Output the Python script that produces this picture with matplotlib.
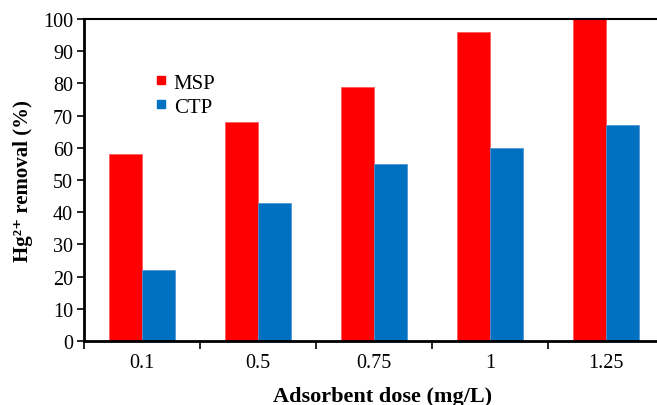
import matplotlib.pyplot as plt
from matplotlib.lines import Line2D
import numpy as np

doses = ["0.1", "0.5", "0.75", "1", "1.25"]
msp = [58, 68, 79, 96, 100]
ctp = [22, 43, 55, 60, 67]

plt.rcParams["font.family"] = ["Liberation Serif", "DejaVu Serif"]

fig = plt.figure(figsize=(6.57, 4.06), dpi=100)
ax = fig.add_axes([84 / 657, 64 / 406, 580 / 657, 322 / 406])

x = np.arange(len(doses))
w = 0.285
ax.bar(x - w / 2, msp, w, color="#FF0000", edgecolor="#FF5050", linewidth=0.5)
ax.bar(x + w / 2, ctp, w, color="#0070C0", edgecolor="#4A90D0", linewidth=0.5)

ax.set_xlim(-0.5, len(doses) - 0.5)
ax.set_ylim(0, 100)
ax.set_yticks(range(0, 101, 10))
ax.set_xticks(x)
ax.set_xticklabels(doses)
ax.set_xticks(np.arange(-0.5, len(doses), 1), minor=True)
ax.tick_params(axis="x", which="major", length=0, labelsize=14.5, pad=9)
ax.tick_params(axis="x", which="minor", length=6, width=1.2, direction="out")
ax.tick_params(axis="y", length=5, width=1.2, direction="out", labelsize=14.5, pad=3)

for s in ax.spines.values():
    s.set_linewidth(1.5)
ax.spines["left"].set_linewidth(2)
ax.spines["bottom"].set_linewidth(2)

ax.set_xlabel("Adsorbent dose (mg/L)", fontsize=16, fontweight="bold")
ax.xaxis.set_label_coords(0.514, -0.14)
ax.set_ylabel("Hg²⁺ removal (%)", fontsize=15, fontweight="bold", labelpad=7)

handles = [
    Line2D([], [], marker="s", linestyle="none", color="#FF0000", markersize=5.5),
    Line2D([], [], marker="s", linestyle="none", color="#0070C0", markersize=5.5),
]
ax.legend(handles, ["MSP", "CTP"], loc="upper left", bbox_to_anchor=(0.09, 0.89),
          frameon=False, fontsize=15, handlelength=0.6, handletextpad=0.3,
          labelspacing=0.2)

fig.savefig("out.png", dpi=100)
plt.close(fig)
